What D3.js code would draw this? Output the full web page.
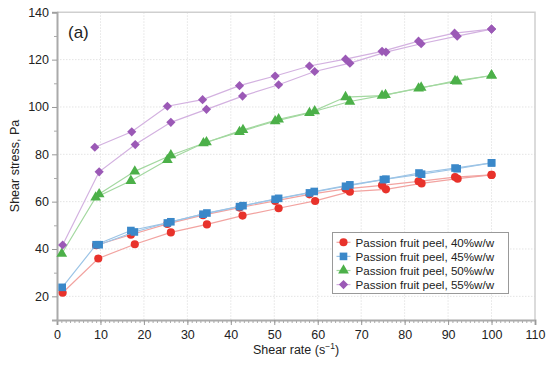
<!DOCTYPE html>
<html>
<head>
<meta charset="utf-8">
<script src="https://cdn.jsdelivr.net/npm/d3@7"></script>
<style>
body { margin: 0; background: #fff; }
text { font-family: "Liberation Sans", Arial, sans-serif; fill: #222; }
</style>
</head>
<body>
<svg id="chart" width="550" height="365"></svg>
<script>
// rising / falling curves, one pair per concentration
var redUpX = [1.3, 9.5, 17.9, 26.2, 34.5, 42.7, 51, 59.4, 67.4, 75.7, 83.9, 92.2, 100];
var redUpY = [21.5, 36, 42, 47, 50.4, 54.1, 57.2, 60.3, 64.2, 65.2, 67.7, 69.7, 71.3];
var redDownX = [9, 17, 25.4, 33.6, 42, 50.2, 58.1, 66.4, 74.8, 83.2, 91.6, 100];
var redDownY = [41.6, 46, 50.6, 54.3, 57.5, 60.3, 63.1, 65.4, 66.9, 68.6, 70.4, 71.3];

var blueUpX = [1.2, 9, 17, 25.4, 33.6, 42, 50.2, 58.1, 66.4, 75.1, 83.3, 91.6, 100];
var blueUpY = [23.8, 41.8, 47.8, 51, 54.7, 57.9, 61, 63.7, 66.5, 69.3, 72.1, 74.2, 76.4];
var blueDownX = [9.7, 17.8, 26.2, 34.5, 42.8, 51, 59.2, 67.4, 75.7, 83.9, 92.1, 100];
var blueDownY = [41.8, 47.2, 51.5, 55.2, 58.3, 61.4, 64.3, 67.1, 69.5, 71.6, 73.9, 76.4];

var greenUpX = [1.1, 8.9, 17, 25.4, 33.7, 42, 50.2, 58.1, 66.4, 74.8, 83.2, 91.6, 100];
var greenUpY = [38, 61.8, 68.8, 77.6, 84.7, 89.5, 94, 97.5, 104.2, 104.8, 107.8, 111, 113.3];
var greenDownX = [9.7, 17.9, 26.2, 34.4, 42.8, 51, 59.3, 67.4, 75.6, 83.8, 92.1, 100];
var greenDownY = [63.2, 72.8, 79.6, 85.1, 90.3, 94.8, 98.2, 102.3, 105.1, 108.2, 110.8, 113.3];

var purpleUpX = [1.3, 9.7, 18, 26.2, 34.4, 42.7, 51, 59.3, 67.4, 75.7, 83.8, 92.1, 100];
var purpleUpY = [41.7, 72.6, 84.1, 93.5, 99, 104.6, 109.4, 115, 118.5, 123.2, 126.7, 129.9, 132.9];
var purpleDownX = [8.7, 17.2, 25.4, 33.5, 42, 50.2, 58.1, 66.4, 74.8, 83.2, 91.5, 100];
var purpleDownY = [83, 89.5, 100.3, 103.1, 109, 113.1, 117.3, 120.2, 123.5, 127.8, 131.2, 132.9];

var seriesNames = ["Passion fruit peel, 40%w/w", "Passion fruit peel, 45%w/w",
                   "Passion fruit peel, 50%w/w", "Passion fruit peel, 55%w/w"];
var xTicks = [0, 10, 20, 30, 40, 50, 60, 70, 80, 90, 100, 110];
var yTicks = [20, 40, 60, 80, 100, 120, 140];

var colors = ["#e8322b", "#3a88c9", "#4cb049", "#9b59b6"];
var lineColors = ["#f2a3a0", "#9cc4e6", "#a3d8a0", "#d3b1e0"];
var symbols = [d3.symbolCircle, d3.symbolSquare, d3.symbolTriangle, d3.symbolSquare];
var symSizes = [52, 58, 50, 42];
var symRotate = [0, 0, 0, 45];

function pts(xs, ys) { return xs.map(function (x, i) { return [x, ys[i]]; }); }
var series = [
  [pts(redUpX, redUpY), pts(redDownX, redDownY)],
  [pts(blueUpX, blueUpY), pts(blueDownX, blueDownY)],
  [pts(greenUpX, greenUpY), pts(greenDownX, greenDownY)],
  [pts(purpleUpX, purpleUpY), pts(purpleDownX, purpleDownY)]
];

var svg = d3.select("#chart");
var L = 57, R = 535, T = 12.3, B = 320;
var x = d3.scaleLinear().domain([0, 110]).range([L, R]);
var y = d3.scaleLinear().domain([10, 140]).range([B, T]);

// grid
var grid = svg.append("g");
grid.selectAll("line.gx").data(xTicks.slice(1, -1)).enter().append("line")
  .attr("x1", d => x(d)).attr("x2", d => x(d)).attr("y1", T).attr("y2", B)
  .attr("stroke", "#e4e4e4").attr("stroke-dasharray", "1.5,1.5");
grid.selectAll("line.gy").data(yTicks.slice(0, -1)).enter().append("line")
  .attr("x1", L).attr("x2", R).attr("y1", d => y(d)).attr("y2", d => y(d))
  .attr("stroke", "#e4e4e4").attr("stroke-dasharray", "1.5,1.5");

// frame top/right
svg.append("path").attr("d", "M" + L + "," + T + "H" + R + "V" + B)
  .attr("fill", "none").attr("stroke", "#cfcfcf").attr("stroke-width", 1.5);

// minor ticks
var xMin = svg.append("g").attr("transform", "translate(0," + B + ")")
  .call(d3.axisBottom(x).tickValues(d3.range(0, 111, 1)).tickSize(3));
xMin.select(".domain").remove();
xMin.selectAll("text").remove();
xMin.selectAll(".tick line").attr("stroke", "#aaa");
var yMin = svg.append("g").attr("transform", "translate(" + L + ",0)")
  .call(d3.axisLeft(y).tickValues([30, 50, 70, 90, 110, 130]).tickSize(3));
yMin.select(".domain").remove();
yMin.selectAll("text").remove();
yMin.selectAll(".tick line").attr("stroke", "#aaa");

// major axes
var xMaj = svg.append("g").attr("transform", "translate(0," + B + ")")
  .call(d3.axisBottom(x).tickValues(xTicks).tickSize(5).tickPadding(5).tickFormat(d3.format("d")));
xMaj.select(".domain").attr("stroke", "#aaa").attr("stroke-width", 2);
xMaj.selectAll(".tick line").attr("stroke", "#999");
xMaj.selectAll("text").attr("font-size", 12.5).style("fill", "#222");
var yMaj = svg.append("g").attr("transform", "translate(" + L + ",0)")
  .call(d3.axisLeft(y).tickValues(yTicks).tickSize(5).tickPadding(3));
yMaj.select(".domain").attr("stroke", "#aaa").attr("stroke-width", 2);
yMaj.selectAll(".tick line").attr("stroke", "#999");
yMaj.selectAll("text").attr("font-size", 12.5).style("fill", "#222");

// axis titles
var xt = svg.append("text").attr("x", 296).attr("y", 354).attr("text-anchor", "middle")
  .attr("font-size", 12.5);
xt.append("tspan").text("Shear rate (s");
xt.append("tspan").attr("dy", -5).attr("font-size", 8.5).text("\u22121");
xt.append("tspan").attr("dy", 5).text(")");
svg.append("text").attr("transform", "translate(19,166) rotate(-90)")
  .attr("text-anchor", "middle").attr("font-size", 12.5).text("Shear stress, Pa");
svg.append("text").attr("x", 68).attr("y", 38).attr("font-size", 17).text("(a)");

// lines and markers
var line = d3.line().x(d => x(d[0])).y(d => y(d[1]));
series.forEach(function (s, i) {
  var g = svg.append("g");
  s.forEach(function (curve) {
    g.append("path").attr("d", line(curve)).attr("fill", "none")
      .attr("stroke", lineColors[i]).attr("stroke-width", 1.2);
  });
  s.forEach(function (curve) {
    g.selectAll(null).data(curve).enter().append("path")
      .attr("d", d3.symbol().type(symbols[i]).size(symSizes[i]))
      .attr("transform", d => "translate(" + x(d[0]) + "," + y(d[1]) + ") rotate(" + symRotate[i] + ")")
      .attr("fill", colors[i]);
  });
});

// legend
var lg = svg.append("g");
lg.append("rect").attr("x", 332.5).attr("y", 232.5).attr("width", 176).attr("height", 61)
  .attr("fill", "#fff").attr("stroke", "#999").attr("stroke-width", 1);
seriesNames.forEach(function (name, i) {
  var yy = 242.3 + i * 14.1;
  lg.append("line").attr("x1", 336.5).attr("x2", 350.5).attr("y1", yy).attr("y2", yy)
    .attr("stroke", lineColors[i]).attr("stroke-width", 1.2);
  lg.append("path").attr("d", d3.symbol().type(symbols[i]).size(symSizes[i]))
    .attr("transform", "translate(343.5," + yy + ") rotate(" + symRotate[i] + ")").attr("fill", colors[i]);
  lg.append("text").attr("x", 355.5).attr("y", yy + 4.2).attr("font-size", 11.6).text(name);
});
</script>
</body>
</html>
